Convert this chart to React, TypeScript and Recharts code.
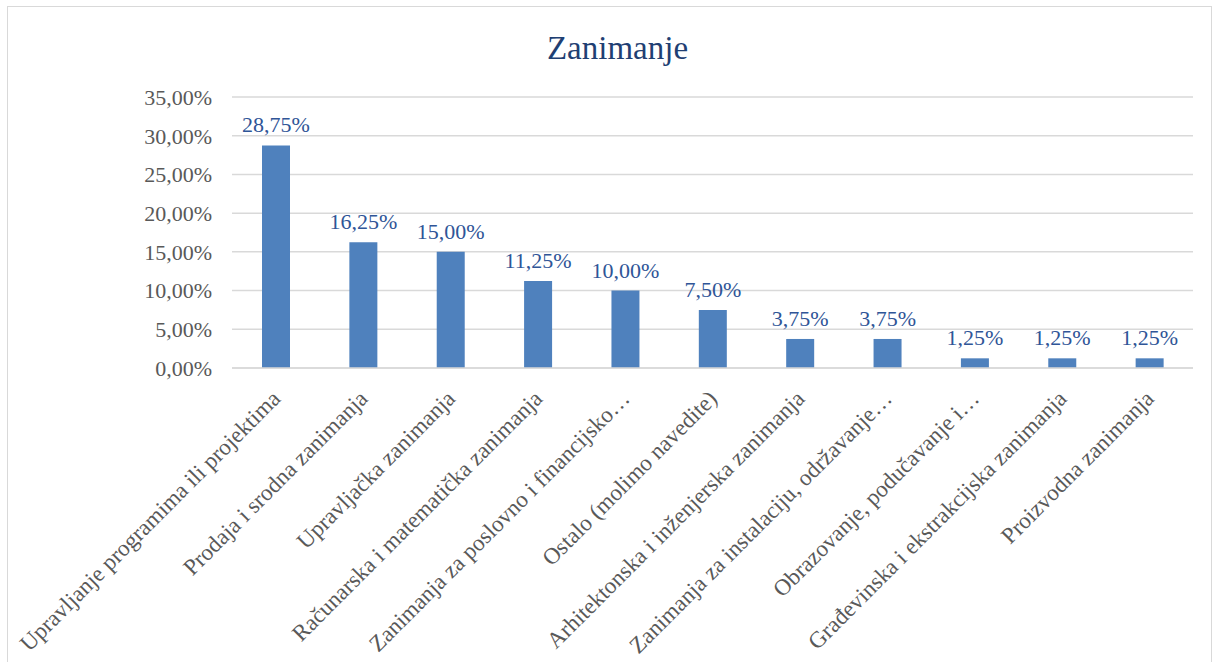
import { BarChart, Bar, XAxis, YAxis, CartesianGrid, LabelList } from 'recharts';

const categories = [
  'Upravljanje programima ili projektima',
  'Prodaja i srodna zanimanja',
  'Upravljačka zanimanja',
  'Računarska i matematička zanimanja',
  'Zanimanja za poslovno i financijsko…',
  'Ostalo (molimo navedite)',
  'Arhitektonska i inženjerska zanimanja',
  'Zanimanja za instalaciju, održavanje…',
  'Obrazovanje, podučavanje i…',
  'Građevinska i ekstrakcijska zanimanja',
  'Proizvodna zanimanja',
];

const shares = [28.75, 16.25, 15.0, 11.25, 10.0, 7.5, 3.75, 3.75, 1.25, 1.25, 1.25];

const yTicks = [0, 5, 10, 15, 20, 25, 30, 35];

const data = categories.map((name, i) => ({ name, value: shares[i] }));

const FONT = '"Liberation Serif", "Times New Roman", serif';
const pct = (v: number) => `${v.toFixed(2).replace('.', ',')}%`;

function CategoryTick(props: any) {
  const { x, y, payload } = props;
  return (
    <text
      transform={`translate(${x + 6},${y + 24}) rotate(-45)`}
      textAnchor="end"
      fontFamily={FONT}
      fontSize={23}
      fill="#595959"
    >
      {payload.value}
    </text>
  );
}

export default function App() {
  return (
    <div
      style={{
        position: 'absolute',
        top: 6,
        left: 7,
        width: 1203,
        height: 655,
        border: '1px solid #d9d9d9',
        background: '#fff',
      }}
    >
      <div
        style={{
          position: 'absolute',
          top: 25,
          left: 8,
          width: '100%',
          textAlign: 'center',
          fontFamily: FONT,
          fontSize: 33,
          lineHeight: '33px',
          color: '#1f3f73',
        }}
      >
        Zanimanje
      </div>
      <BarChart
        width={1203}
        height={655}
        data={data}
        margin={{ top: 90, right: 18, left: 0, bottom: 0 }}
      >
        <CartesianGrid vertical={false} stroke="#d9d9d9" strokeWidth={1.5} />
        <XAxis
          dataKey="name"
          interval={0}
          height={294}
          axisLine={{ stroke: '#d9d9d9', strokeWidth: 1.5 }}
          tickLine={false}
          tick={<CategoryTick />}
        />
        <YAxis
          width={224}
          domain={[0, 35]}
          ticks={yTicks}
          tickFormatter={pct}
          axisLine={false}
          tickLine={false}
          tickSize={0}
          tickMargin={20}
          tick={{ fontFamily: FONT, fontSize: 22, fill: '#595959' }}
        />
        <Bar dataKey="value" fill="#4f81bd" barSize={28} isAnimationActive={false}>
          <LabelList
            dataKey="value"
            position="top"
            offset={13}
            formatter={(v: any) => pct(Number(v))}
            style={{ fontFamily: FONT, fontSize: 22, fill: '#2f5597' }}
          />
        </Bar>
      </BarChart>
    </div>
  );
}
